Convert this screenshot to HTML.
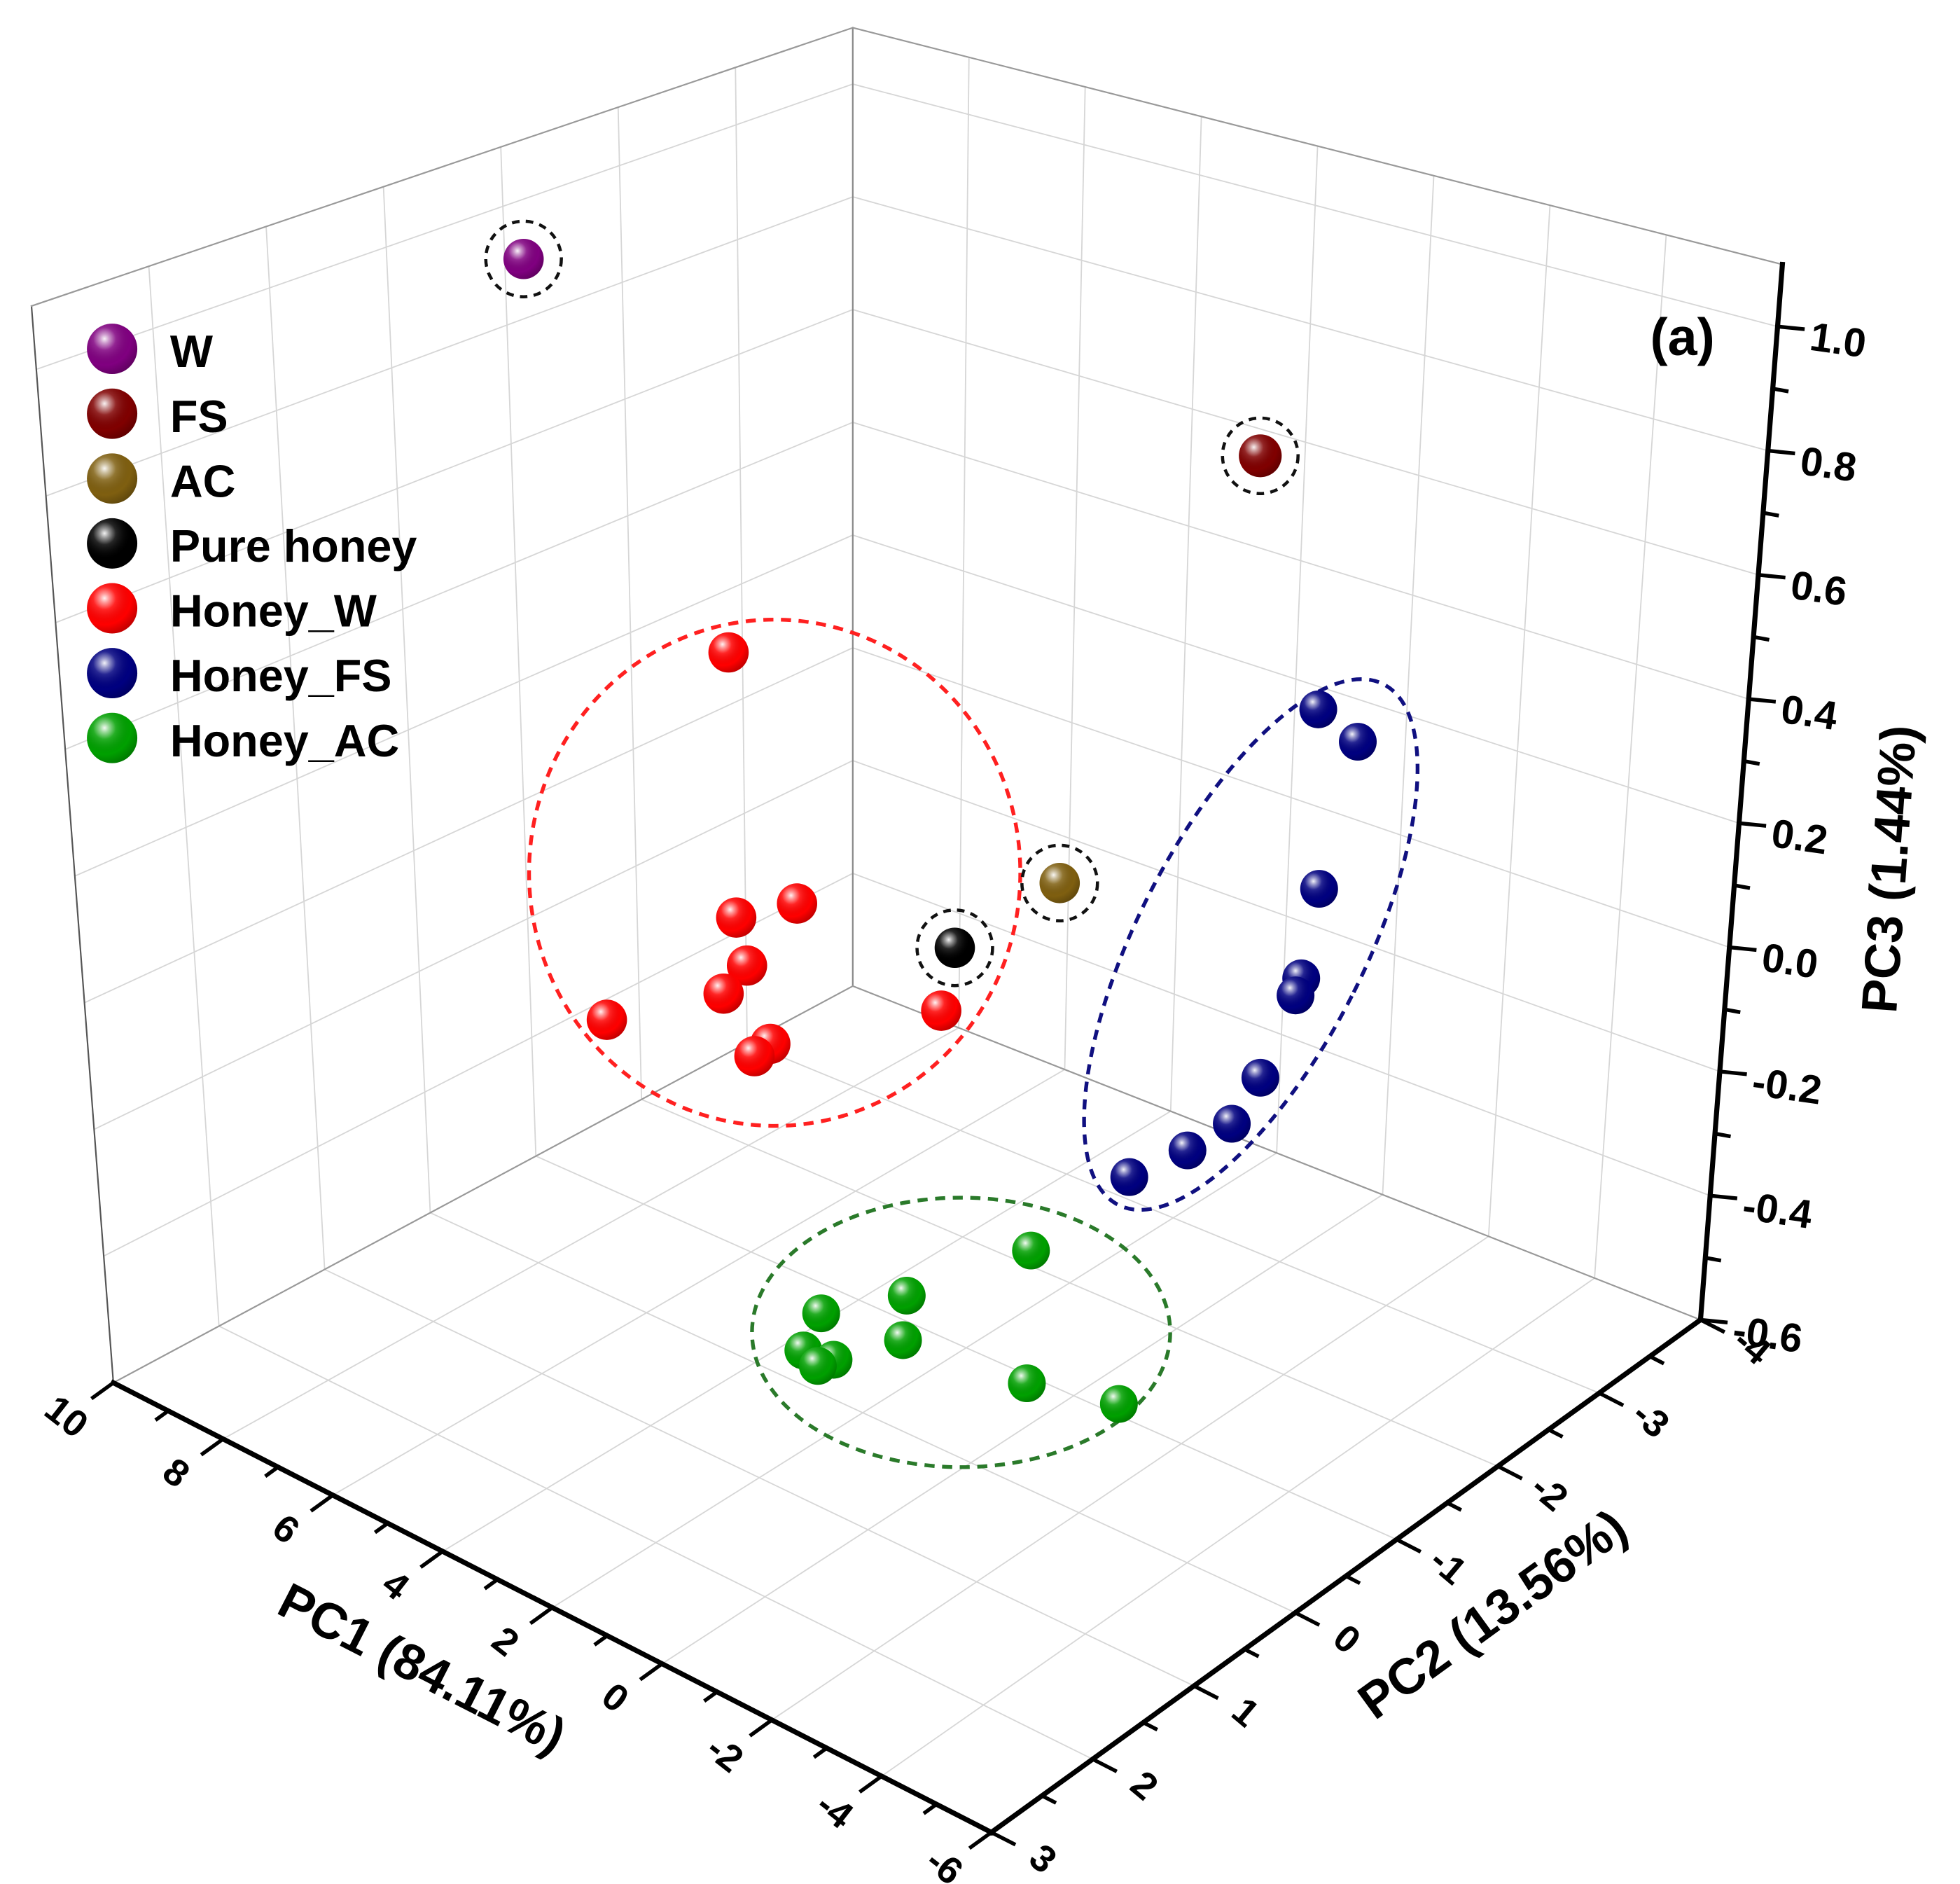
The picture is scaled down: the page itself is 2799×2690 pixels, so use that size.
<!DOCTYPE html>
<html><head><meta charset="utf-8"><style>
html,body{margin:0;padding:0;background:#fff}
svg{display:block}
text{font-family:"Liberation Sans",Arial,sans-serif;font-weight:bold;fill:#000}
</style></head>
<body>
<svg id="chart" width="2799" height="2690" viewBox="0 0 1556 1496" preserveAspectRatio="none" xmlns="http://www.w3.org/2000/svg">
<defs>
<radialGradient id="ballGrad" cx="0.35" cy="0.3" r="0.75">
<stop offset="0" stop-color="#fff" stop-opacity="0.95"/>
<stop offset="0.12" stop-color="#fff" stop-opacity="0.6"/>
<stop offset="0.3" stop-color="#fff" stop-opacity="0.15"/>
<stop offset="0.7" stop-color="#000" stop-opacity="0"/>
<stop offset="1" stop-color="#000" stop-opacity="0.25"/>
</radialGradient>
</defs>
<g id="grid"></g>
<g id="annot"></g>
<g id="points"></g>
<g id="axes"></g>
<g id="legend"></g>
<text x="1310" y="282" font-size="42">(a)</text>
</svg>
<script>
// ---- data ----
const seriesNames = ["W","FS","AC","Pure honey","Honey_W","Honey_FS","Honey_AC"];
const seriesColors = ["#800080","#800000","#7f5f10","#000000","#ff0000","#000080","#00a000"];
const wPC1 = [7.65], wPC2 = [0], wPC3 = [1.05];
const fsPC1 = [-1.04], fsPC2 = [-2], fsPC3 = [0.83];
const acPC1 = [2.3], acPC2 = [-2], acPC3 = [0.04];
const purePC1 = [4.18], purePC2 = [-2], purePC3 = [-0.13];
const honeyWPC1 = [4.27,3.12,4.21,4.03,4.46,6.59,3.63,3.92,0.56];
const honeyWPC2 = [0,0,0,0,0,0,0,0,0];
const honeyWPC3 = [0.52,0.16,0.10,0.03,-0.03,-0.15,-0.08,-0.11,0.08];
const honeyFSPC1 = [-2.19,-2.9,-2.32,-2.06,-1.97,-1.39,-0.9,-0.11,0.94];
const honeyFSPC2 = [-2,-2,-2,-2,-2,-2,-2,-2,-2];
const honeyFSPC3 = [0.46,0.43,0.18,0.03,0.0,-0.15,-0.24,-0.31,-0.39];
const honeyACPC1 = [2.46,3.01,3.61,2.27,3.15,2.67,2.73,0.19,-1.17];
const honeyACPC2 = [-1.86,-0.95,-0.44,-0.53,-0.03,-0.07,0.05,-0.64,-0.82];
const honeyACPC3 = [-0.55,-0.55,-0.55,-0.55,-0.55,-0.55,-0.55,-0.55,-0.55];
const pc1Ticks = [10,8,6,4,2,0,-2,-4,-6];
const pc2Ticks = [3,2,1,0,-1,-2,-3,-4];
const pc3Ticks = [-0.6,-0.4,-0.2,0.0,0.2,0.4,0.6,0.8,1.0];
const pc1Labels = ["10","8","6","4","2","0","-2","-4","-6"];
const pc2Labels = ["3","2","1","0","-1","-2","-3","-4"];
const pc3Labels = ["-0.6","-0.4","-0.2","0.0","0.2","0.4","0.6","0.8","1.0"];

// ---- projection ----
const X1=10,X2=-6,Y1=3,Y2=-4,Z1=-0.6,Z2=1.1;
const fL=[90,1098],fF=[787,1455],fR=[1350,1048],fB=[677,783];
const tL=[25,243],tF=[787,495],tR=[1415,210],tB=[677,22];
function bil(L,F,R,B,s,t){return[(1-s)*(1-t)*L[0]+s*(1-t)*F[0]+s*t*R[0]+(1-s)*t*B[0],(1-s)*(1-t)*L[1]+s*(1-t)*F[1]+s*t*R[1]+(1-s)*t*B[1]];}
function proj(p1,p2,p3){
  const s=(X1-p1)/(X1-X2), t=(Y1-p2)/(Y1-Y2), w=(p3-Z1)/(Z2-Z1);
  const a=bil(fL,fF,fR,fB,s,t), b=bil(tL,tF,tR,tB,s,t);
  return [a[0]+w*(b[0]-a[0]), a[1]+w*(b[1]-a[1])];
}
const NS="http://www.w3.org/2000/svg";
function mk(tag,attrs,parent){const e=document.createElementNS(NS,tag);for(const k in attrs)e.setAttribute(k,attrs[k]);parent.appendChild(e);return e;}
function line(P,Q,stroke,w,parent,name){
  const e=mk("line",{x1:P[0],y1:P[1],x2:Q[0],y2:Q[1],stroke:stroke,"stroke-width":w,"stroke-linecap":"square"},parent);
  
  
  return e;
}
const grid=document.getElementById("grid");
const gc="#d6d6d6";
// left wall (pc1 = X1)
for(let v=Y2; v<=Y1; v+=1){line(proj(X1,v,Z1),proj(X1,v,Z2),gc,1,grid,'left-wall-gridline');}
for(let z=-0.6; z<=1.01; z+=0.2){line(proj(X1,Y1,z),proj(X1,Y2,z),gc,1,grid,'left-wall-gridline');}
// right wall (pc2 = Y2)
for(let v=X2; v<=X1; v+=2){line(proj(v,Y2,Z1),proj(v,Y2,Z2),gc,1,grid,'right-wall-gridline');}
for(let z=-0.6; z<=1.01; z+=0.2){line(proj(X1,Y2,z),proj(X2,Y2,z),gc,1,grid,'right-wall-gridline');}
// floor
for(let v=X2; v<=X1; v+=2){line(proj(v,Y1,Z1),proj(v,Y2,Z1),gc,1,grid,'floor-gridline');}
for(let v=Y2; v<=Y1; v+=1){line(proj(X1,v,Z1),proj(X2,v,Z1),gc,1,grid,'floor-gridline');}
// box edges
line(proj(X1,Y2,Z1),proj(X1,Y2,Z2),"#888",1.2,grid,'back-vertical-edge');
line(proj(X1,Y1,Z1),proj(X1,Y1,Z2),"#555",1.2,grid,'left-vertical-edge');
line(proj(X1,Y1,Z2),proj(X1,Y2,Z2),"#999",1.2,grid,'left-top-edge');
line(proj(X1,Y2,Z2),proj(X2,Y2,Z2),"#999",1.2,grid,'right-top-edge');
line(proj(X1,Y1,Z1),proj(X1,Y2,Z1),"#999",1.2,grid,'left-floor-edge');
line(proj(X1,Y2,Z1),proj(X2,Y2,Z1),"#999",1.2,grid,'right-floor-edge');

// annotations
const annot=document.getElementById("annot");
let e;
e=mk("ellipse",{cx:615,cy:693,rx:195,ry:201,fill:"none",stroke:"#ff2020","stroke-width":3,"stroke-dasharray":"8 6"},annot);


e=mk("ellipse",{cx:993,cy:750,rx:90,ry:232,fill:"none",stroke:"#101080","stroke-width":3,"stroke-dasharray":"8 6",transform:"rotate(27 993 750)"},annot);


e=mk("ellipse",{cx:763,cy:1058,rx:166,ry:107,fill:"none",stroke:"#2a7a2a","stroke-width":3,"stroke-dasharray":"8 6"},annot);



// points
const pts=document.getElementById("points");
function ball(cx,cy,r,color,parent,name){
  const g=mk("g",{},parent);
  
  
  mk("circle",{cx:cx,cy:cy,r:r,fill:color},g);
  mk("circle",{cx:cx,cy:cy,r:r,fill:"url(#ballGrad)"},g);
  return g;
}
function ring(P){
  e=mk("circle",{cx:P[0],cy:P[1],r:30,fill:"none",stroke:"#111","stroke-width":2.5,"stroke-dasharray":"6 5"},annot);
  
  
}
const groups=[[wPC1,wPC2,wPC3,0,16,true],[fsPC1,fsPC2,fsPC3,1,17,true],[acPC1,acPC2,acPC3,2,16,true],[purePC1,purePC2,purePC3,3,16,true],
 [honeyWPC1,honeyWPC2,honeyWPC3,4,16,false],[honeyFSPC1,honeyFSPC2,honeyFSPC3,5,15,false],[honeyACPC1,honeyACPC2,honeyACPC3,6,15,false]];
groups.forEach(g=>{
  for(let i=0;i<g[0].length;i++){
    const P=proj(g[0][i],g[1][i],g[2][i]);
    if(g[5]) ring(P);
    ball(P[0],P[1],g[4],seriesColors[g[3]],pts,'point-'+seriesNames[g[3]].toLowerCase().replace(/[ _]/g,'-'));
  }
});

// axes
const axes=document.getElementById("axes");
line(proj(X1,Y1,Z1),proj(X2,Y1,Z1),"#000",4,axes,'pc1-axis-line');
line(proj(X2,Y1,Z1),proj(X2,Y2,Z1),"#000",4,axes,'pc2-axis-line');
line(proj(X2,Y2,Z1),proj(X2,Y2,Z2),"#000",4,axes,'pc3-axis-line');
function txt(x,y,s,size,rot,parent,name,anchor){
  const t=mk("text",{x:x,y:y,"font-size":size,"text-anchor":anchor||"middle","dominant-baseline":"central",transform:"rotate("+rot+" "+x+" "+y+")"},parent);
  t.textContent=s;
  
  
  return t;
}
// PC1 ticks (outward direction toward +pc2)
const d1=[-0.81,0.586];
for(let v=X2; v<=X1; v+=1){
  const P=proj(v,Y1,Z1); const L=(v%2===0)?20:11;
  line(P,[P[0]+d1[0]*L,P[1]+d1[1]*L],"#000",3,axes,'pc1-tick');
}
pc1Ticks.forEach((v,i)=>{const P=proj(v,Y1,Z1);txt(P[0]+d1[0]*46,P[1]+d1[1]*46,pc1Labels[i],30,38,axes,'pc1-tick-label');});
// PC2 ticks (outward toward -pc1)
const d2=[0.89,0.456];
for(let v=Y2; v<=Y1; v+=0.5){
  const P=proj(X2,v,Z1); const L=(Number.isInteger(v))?20:11;
  line(P,[P[0]+d2[0]*L,P[1]+d2[1]*L],"#000",3,axes,'pc2-tick');
}
pc2Ticks.forEach((v,i)=>{const P=proj(X2,v,Z1);txt(P[0]+d2[0]*46,P[1]+d2[1]*46,pc2Labels[i],30,40,axes,'pc2-tick-label');});
// PC3 ticks (horizontal, pointing left from axis)
for(let k=0;k<=16;k++){
  const z=-0.6+k*0.1; const P=proj(X2,Y2,z); const L=(k%2===0)?20:11;
  line(P,[P[0]+L,P[1]+2],"#000",3,axes,'pc3-tick');
}
pc3Ticks.forEach((v,i)=>{const P=proj(X2,Y2,v);txt(P[0]+26,P[1]+8,pc3Labels[i],32,8,axes,'pc3-tick-label','start');});
// axis titles
txt(335,1325,"PC1 (84.11%)",40,27,axes,'pc1-axis-title');
txt(1185,1282,"PC2 (13.56%)",40,-36,axes,'pc2-axis-title');
txt(1500,690,"PC3 (1.44%)",40,-86,axes,'pc3-axis-title');

// legend
const leg=document.getElementById("legend");
seriesNames.forEach((n,i)=>{
  const y=277+i*51.5;
  const g=mk("g",{},leg);
  
  
  ball(89,y,20,seriesColors[i],g,'legend-marker');
  txt(135,y+2,n,36,0,g,'legend-label','start');
});
</script>
</body></html>
